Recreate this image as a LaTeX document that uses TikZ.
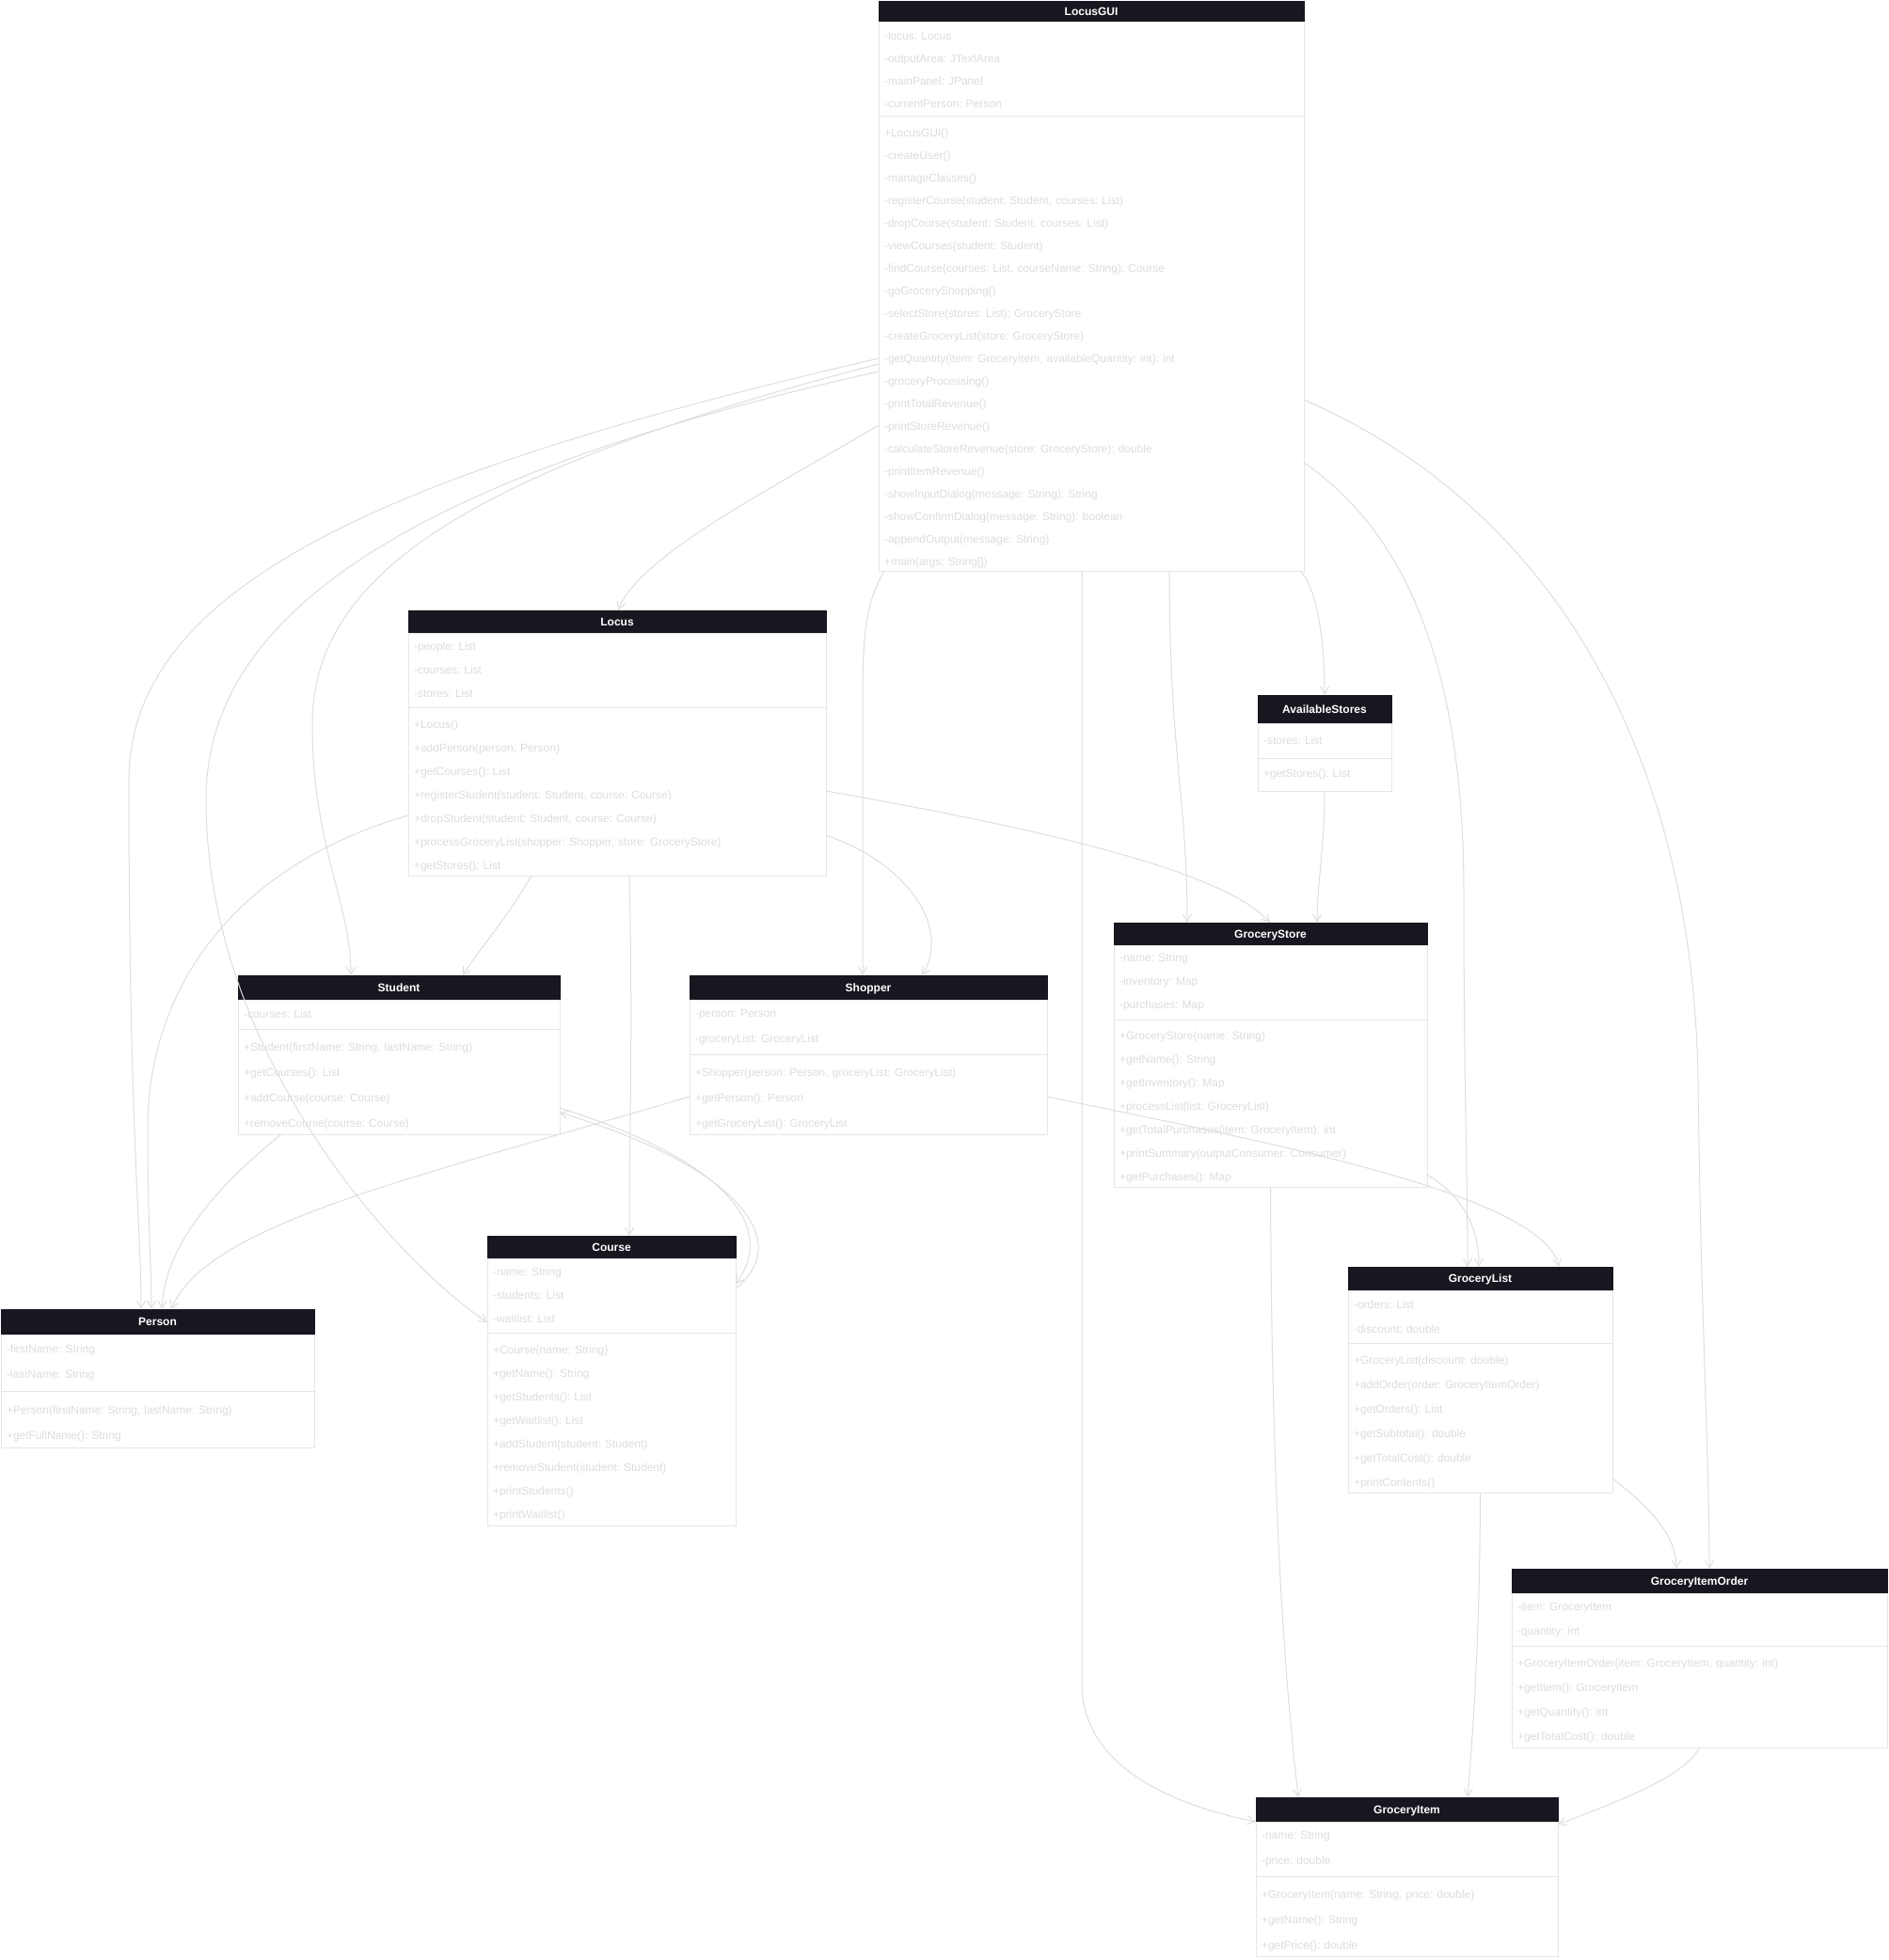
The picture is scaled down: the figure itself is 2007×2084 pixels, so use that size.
\documentclass[tikz,border=0pt]{standalone}
\usepackage{fontspec}
\setmainfont{Liberation Sans}
\usepackage{xcolor}
\usepackage{tikz}
\usetikzlibrary{arrows.meta, positioning}
\frenchspacing

\definecolor{hdrfill}{RGB}{24,22,31}
\definecolor{txtgray}{RGB}{221,221,221}
\definecolor{boxline}{RGB}{230,230,230}
\definecolor{wire}{RGB}{222,222,222}

\begin{document}
\begin{tikzpicture}[
        x=1pt, y=-1pt,
        hdr/.style={draw=hdrfill, fill=hdrfill, text=white, font=\bfseries\fontsize{12}{14}\selectfont, text height=8.6pt, text depth=0pt, inner sep=0pt, outer sep=0pt},
        cbody/.style={draw=boxline, line width=1pt, fill=white, text=txtgray, align=left, inner xsep=6pt, inner ysep=0pt, outer sep=0pt},
        mbody/.style={cbody, text height=18pt},
        rowgap/.style={font=\fontsize{12}{#1}\selectfont},
        conn/.style={draw=wire, line width=1pt, -{Straight Barb[length=8pt, width=9pt]}}
    ]
        \path[use as bounding box, fill=white] (0,0) rectangle (2007,2084);

        \node[hdr, minimum width=452pt, minimum height=23pt] (gui) at (1160,12.5) {LocusGUI};
        \node[cbody, rowgap=24, text width=440pt, minimum height=100pt, below=0pt of gui] (gui-a) {-locus: Locus\\-outputArea: JTextArea\\-mainPanel: JPanel\\-currentPerson: Person};
        \node[mbody, rowgap=24, text width=440pt, minimum height=483pt, below=0pt of gui-a] (gui-m) {+LocusGUI()\\-createUser()\\-manageClasses()\\-registerCourse(student: Student, courses: List)\\-dropCourse(student: Student, courses: List)\\-viewCourses(student: Student)\\-findCourse(courses: List, courseName: String): Course\\-goGroceryShopping()\\-selectStore(stores: List): GroceryStore\\-createGroceryList(store: GroceryStore)\\-getQuantity(item: GroceryItem, availableQuantity: int): int\\-groceryProcessing()\\-printTotalRevenue()\\-printStoreRevenue()\\-calculateStoreRevenue(store: GroceryStore): double\\-printItemRevenue()\\-showInputDialog(message: String): String\\-showConfirmDialog(message: String): boolean\\-appendOutput(message: String)\\+main(args: String[])};

        \node[hdr, minimum width=444pt, minimum height=24pt] (locus) at (656,661) {Locus};
        \node[cbody, rowgap=25, text width=432pt, minimum height=79pt, below=0pt of locus] (locus-a) {-people: List\\-courses: List\\-stores: List};
        \node[mbody, rowgap=25, text width=432pt, minimum height=179pt, below=0pt of locus-a] (locus-m) {+Locus()\\+addPerson(person: Person)\\+getCourses(): List\\+registerStudent(student: Student, course: Course)\\+dropStudent(student: Student, course: Course)\\+processGroceryList(shopper: Shopper, store: GroceryStore)\\+getStores(): List};

        \node[hdr, minimum width=142pt, minimum height=30pt] (avail) at (1408,754) {AvailableStores};
        \node[cbody, rowgap=25, text width=130pt, minimum height=37pt, below=0pt of avail] (avail-a) {-stores: List};
        \node[cbody, rowgap=25, text width=130pt, minimum height=35pt, below=0pt of avail-a] (avail-m) {+getStores(): List};

        \node[hdr, minimum width=333pt, minimum height=24pt] (store) at (1350.5,993) {GroceryStore};
        \node[cbody, rowgap=25, text width=321pt, minimum height=79pt, below=0pt of store] (store-a) {-name: String\\-inventory: Map\\-purchases: Map};
        \node[mbody, rowgap=25, text width=321pt, minimum height=178pt, below=0pt of store-a] (store-m) {+GroceryStore(name: String)\\+getName(): String\\+getInventory(): Map\\+processList(list: GroceryList)\\+getTotalPurchases(item: GroceryItem): int\\+printSummary(outputConsumer: Consumer)\\+getPurchases(): Map};

        \node[hdr, minimum width=342pt, minimum height=26pt] (student) at (424,1050) {Student};
        \node[cbody, rowgap=27, text width=330pt, minimum height=31pt, below=0pt of student] (student-a) {-courses: List};
        \node[mbody, rowgap=27, text width=330pt, minimum height=112pt, below=0pt of student-a] (student-m) {+Student(firstName: String, lastName: String)\\+getCourses(): List\\+addCourse(course: Course)\\+removeCourse(course: Course)};

        \node[hdr, minimum width=380pt, minimum height=26pt] (shopper) at (923,1050) {Shopper};
        \node[cbody, rowgap=27, text width=368pt, minimum height=58pt, below=0pt of shopper] (shopper-a) {-person: Person\\-groceryList: GroceryList};
        \node[mbody, rowgap=27, text width=368pt, minimum height=85pt, below=0pt of shopper-a] (shopper-m) {+Shopper(person: Person, groceryList: GroceryList)\\+getPerson(): Person\\+getGroceryList(): GroceryList};

        \node[hdr, minimum width=264pt, minimum height=24pt] (course) at (650,1326) {Course};
        \node[cbody, rowgap=25, text width=252pt, minimum height=79pt, below=0pt of course] (course-a) {-name: String\\-students: List\\-waitlist: List};
        \node[mbody, rowgap=25, text width=252pt, minimum height=205pt, below=0pt of course-a] (course-m) {+Course(name: String)\\+getName(): String\\+getStudents(): List\\+getWaitlist(): List\\+addStudent(student: Student)\\+removeStudent(student: Student)\\+printStudents()\\+printWaitlist()};

        \node[hdr, minimum width=333pt, minimum height=27pt] (person) at (167.5,1405.5) {Person};
        \node[cbody, rowgap=27.5, text width=321pt, minimum height=60pt, below=0pt of person] (person-a) {-firstName: String\\-lastName: String};
        \node[mbody, rowgap=27, text width=321pt, minimum height=60pt, below=0pt of person-a] (person-m) {+Person(firstName: String, lastName: String)\\+getFullName(): String};

        \node[hdr, minimum width=281pt, minimum height=25pt] (glist) at (1573.5,1359.5) {GroceryList};
        \node[cbody, rowgap=26, text width=269pt, minimum height=56pt, below=0pt of glist] (glist-a) {-orders: List\\-discount: double};
        \node[mbody, rowgap=26, text width=269pt, minimum height=159pt, below=0pt of glist-a] (glist-m) {+GroceryList(discount: double)\\+addOrder(order: GroceryItemOrder)\\+getOrders(): List\\+getSubtotal(): double\\+getTotalCost(): double\\+printContents()};

        \node[hdr, minimum width=399pt, minimum height=26pt] (order) at (1806.5,1681) {GroceryItemOrder};
        \node[cbody, rowgap=26, text width=387pt, minimum height=56pt, below=0pt of order] (order-a) {-item: GroceryItem\\-quantity: int};
        \node[mbody, rowgap=26, text width=387pt, minimum height=108pt, below=0pt of order-a] (order-m) {+GroceryItemOrder(item: GroceryItem, quantity: int)\\+getItem(): GroceryItem\\+getQuantity(): int\\+getTotalCost(): double};

        \node[hdr, minimum width=321pt, minimum height=26pt] (item) at (1495.5,1924) {GroceryItem};
        \node[cbody, rowgap=27, text width=309pt, minimum height=58pt, below=0pt of item] (item-a) {-name: String\\-price: double};
        \node[mbody, rowgap=27, text width=309pt, minimum height=85pt, below=0pt of item-a] (item-m) {+GroceryItem(name: String, price: double)\\+getName(): String\\+getPrice(): double};

        \draw[conn] ([yshift=-257pt]gui-m.north west) .. controls (420,500) and (137,620) .. (137,830) .. controls (137,1200) and (150,1300) .. ([xshift=149pt]person.north west);
        \draw[conn] ([yshift=-263pt]gui-m.north west) .. controls (500,500) and (332,610) .. (332,770) .. controls (332,900) and (373,960) .. ([xshift=120pt]student.north west);
        \draw[conn] ([yshift=-271pt]gui-m.north west) .. controls (420,510) and (219,660) .. (219,850) .. controls (219,1120) and (420,1340) .. ([yshift=-68pt]course-a.north west);
        \draw[conn] ([yshift=-328pt]gui-m.north west) .. controls (820,520) and (680,590) .. ([xshift=223pt]locus.north west);
        \draw[conn] ([xshift=6pt]gui-m.south west) .. controls (920,640) and (917,680) .. (917,740) -- ([xshift=184pt]shopper.north west);
        \draw[conn] ([xshift=216pt]gui-m.south west) -- (1150,1790) .. controls (1150,1880) and (1250,1920) .. (item-a.north west);
        \draw[conn] ([xshift=309pt]gui-m.south west) .. controls (1243,800) and (1262,850) .. ([xshift=78pt]store.north west);
        \draw[conn] ([xshift=-4pt]gui-m.south east) .. controls (1400,625) and (1408,680) .. (avail.north);
        \draw[conn] ([yshift=-368pt]gui-m.north east) .. controls (1500,570) and (1556,720) .. (1556,950) .. controls (1556,1150) and (1560,1250) .. ([xshift=127pt]glist.north west);
        \draw[conn] ([yshift=-301pt]gui-m.north east) .. controls (1650,540) and (1800,800) .. (1805,1150) .. controls (1808,1400) and (1817,1550) .. ([xshift=210pt]order.north west);

        \draw[conn] ([xshift=131pt]locus-m.south west) .. controls (540,975) and (505,1015) .. ([xshift=239pt]student.north west);
        \draw[conn] ([xshift=235pt]locus-m.south west) .. controls (673,1100) and (669,1200) .. ([xshift=151pt]course.north west);
        \draw[conn] ([yshift=-136pt]locus-m.north east) .. controls (970,920) and (1010,990) .. ([xshift=247pt]shopper.north west);
        \draw[conn] ([yshift=-89pt]locus-m.north east) .. controls (1100,880) and (1300,925) .. ([xshift=166pt]store.north west);
        \draw[conn] ([yshift=-115pt]locus-m.north west) .. controls (250,920) and (157,1050) .. (157,1200) .. controls (157,1300) and (161,1350) .. ([xshift=160pt]person.north west);

        \draw[conn] ([xshift=46pt]student-m.south west) .. controls (220,1270) and (175,1330) .. ([xshift=171pt]person.north west);
        \draw[conn] ([yshift=-84pt]student-m.north east) .. controls (760,1230) and (830,1300) .. ([yshift=-27pt]course-a.north east);
        \draw[conn] ([yshift=-32pt]course-a.north east) .. controls (850,1315) and (770,1235) .. ([yshift=-89pt]student-m.north east);
        \draw[conn] ([yshift=-45pt]shopper-m.north west) .. controls (450,1250) and (220,1300) .. ([xshift=181pt]person.north west);
        \draw[conn] ([yshift=-45pt]shopper-m.north east) .. controls (1350,1215) and (1640,1270) .. ([xshift=224pt]glist.north west);

        \draw[conn] (avail-m.south) .. controls (1408,900) and (1400,940) .. ([xshift=216pt]store.north west);
        \draw[conn] (store-m.south) .. controls (1352,1650) and (1370,1820) .. ([xshift=45pt]item.north west);
        \draw[conn] ([yshift=-165pt]store-m.north east) .. controls (1560,1275) and (1572,1310) .. ([xshift=139pt]glist.north west);
        \draw[conn] ([yshift=-144pt]glist-m.north east) .. controls (1750,1600) and (1782,1630) .. ([xshift=175pt]order.north west);
        \draw[conn] (glist-m.south) .. controls (1573,1750) and (1565,1850) .. ([xshift=225pt]item.north west);
        \draw[conn] (order-m.south) .. controls (1790,1890) and (1720,1915) .. ([yshift=-3pt]item-a.north east);
    \end{tikzpicture}
\end{document}
